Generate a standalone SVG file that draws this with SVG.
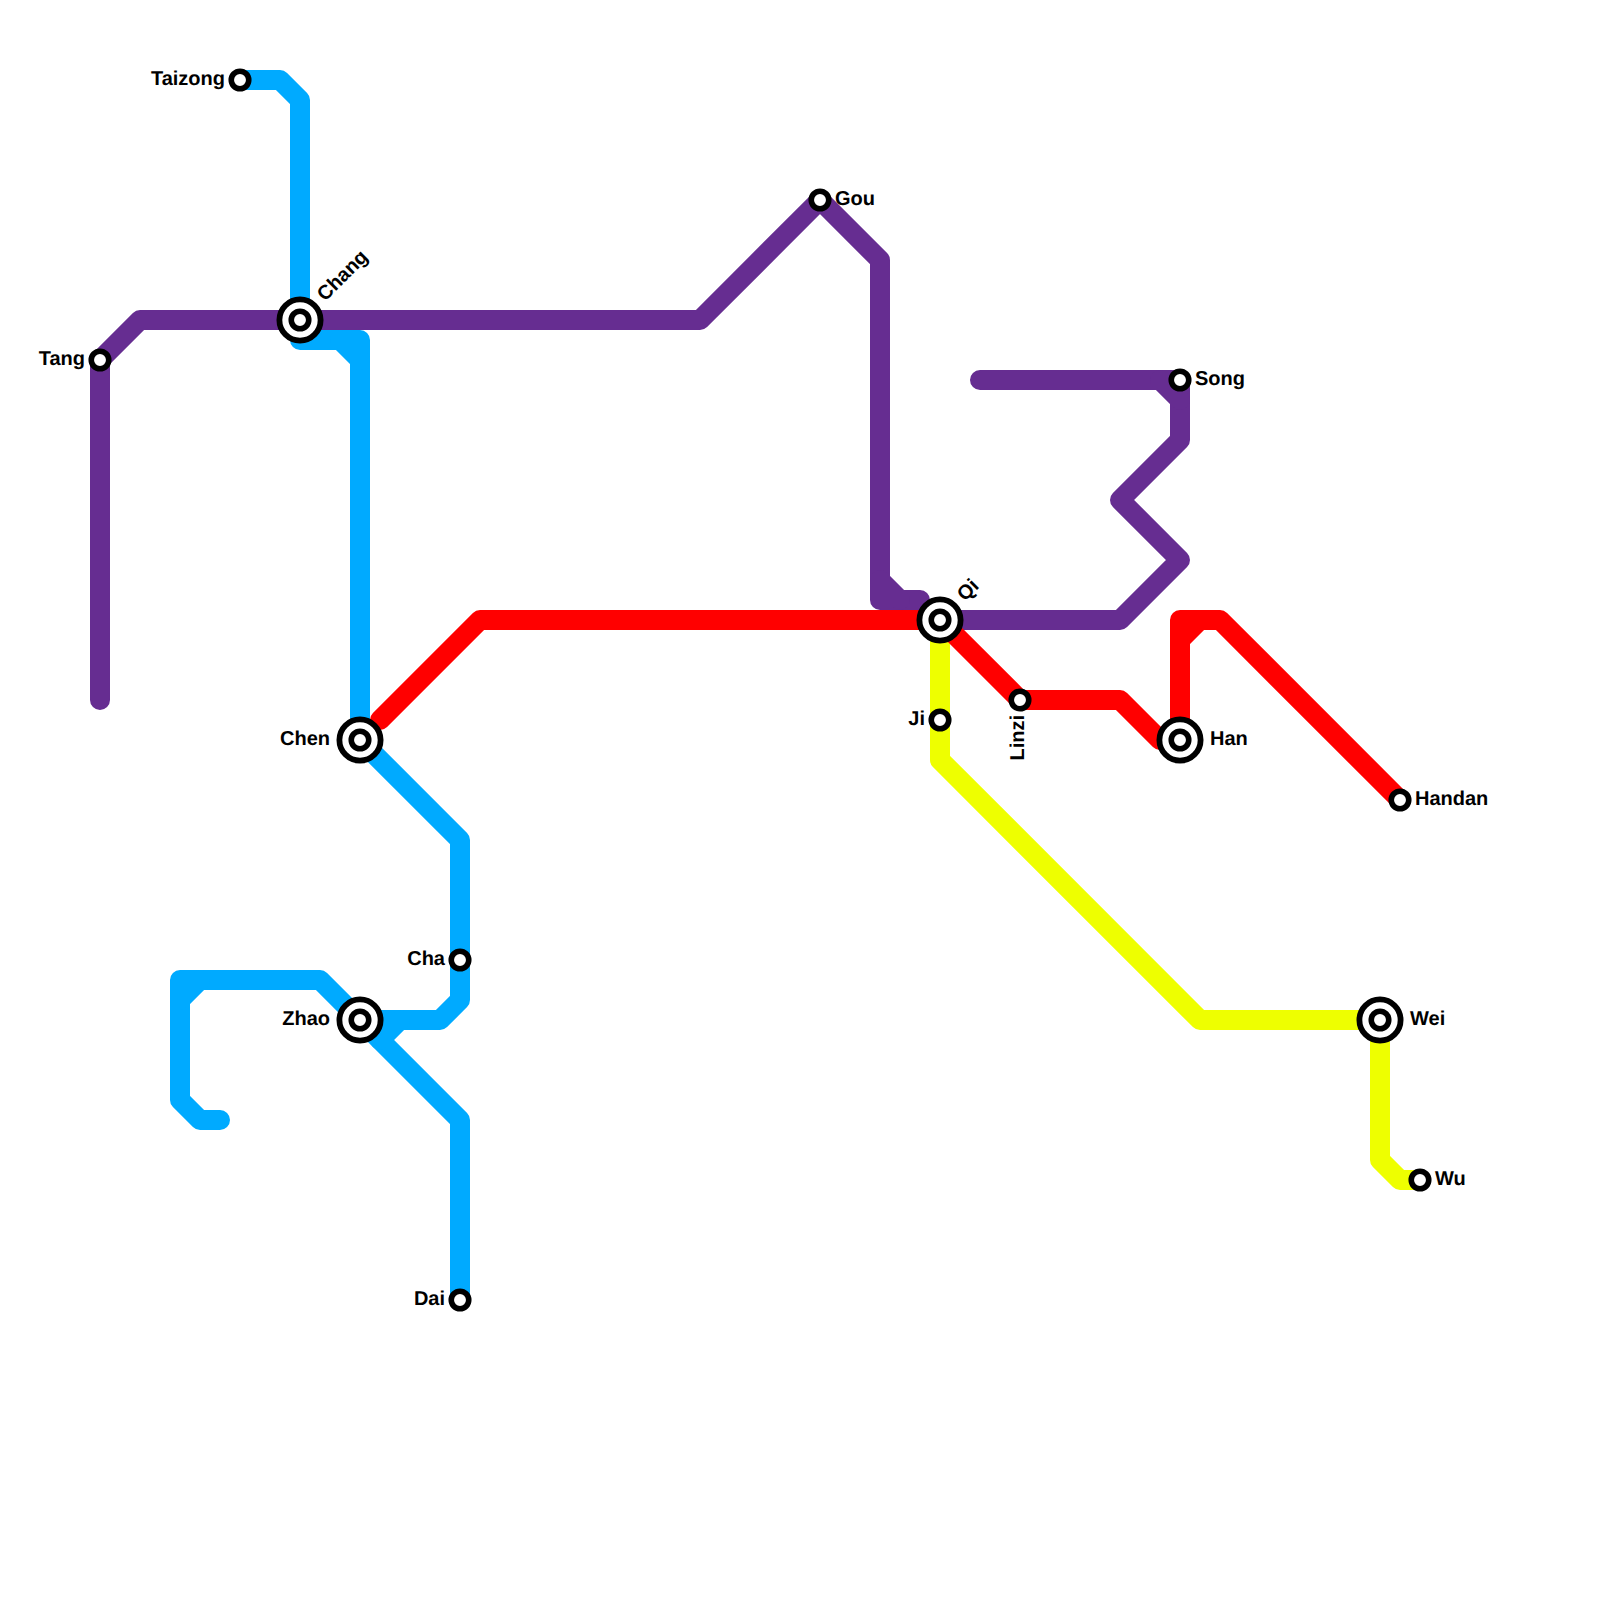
<svg xmlns="http://www.w3.org/2000/svg" width="1600" height="1600" viewBox="0 0 1600 1600">
<style>
.l{fill:none;stroke-width:20;stroke-linecap:round;stroke-linejoin:round}
.b{stroke:#00aaff}.p{stroke:#662d91}.r{stroke:#ff0000}.y{stroke:#eeff00}
.o{fill:#fff;stroke:#000;stroke-width:5.8}
.s{fill:#fff;stroke:#000;stroke-width:5.6}
text{font-family:"Liberation Sans",Arial,sans-serif;font-weight:bold;font-size:20px;fill:#000;text-rendering:geometricPrecision}
.e{text-anchor:end}
</style>
<rect width="1600" height="1600" fill="#fff"/>
<g id="connectors">
<path class="l b" d="M240,80H280L300,100V340H360V740"/>
<path class="l b" d="M340,340L360,360"/>
<path class="l b" d="M360,740L460,840V1000L440,1020H360L460,1120V1300"/>
<path class="l b" d="M380,1040L400,1020"/>
<path class="l b" d="M360,1020L320,980H180V1100L200,1120H220"/>
<path class="l b" d="M180,1000L200,980"/>
<path class="l y" d="M940,620V760L1200,1020H1380V1160L1400,1180H1420"/>
<path class="l p" d="M100,700V360L140,320H700L820,200L880,260V600H920"/>
<path class="l p" d="M880,580L900,600"/>
<path class="l p" d="M940,620H1120L1180,560L1120,500L1180,440V380H980"/>
<path class="l p" d="M1160,380L1180,400"/>
<path class="l r" d="M380,720L480,620H940L1020,700H1120L1160,740"/>
<path class="l r" d="M1180,740V620H1220L1400,800"/>
<path class="l r" d="M1180,640L1200,620"/>
</g>
<g id="st-taizong"><circle class="s" cx="240" cy="80" r="8.75"/><text class="e" x="225" y="85">Taizong</text></g>
<g id="st-tang"><circle class="s" cx="100" cy="360" r="8.75"/><text class="e" x="85" y="365">Tang</text></g>
<g id="st-chang"><circle class="o" cx="300" cy="320" r="20.6"/><circle class="s" cx="300" cy="320" r="8.75"/><text x="325" y="302" transform="rotate(-45 325 302)">Chang</text></g>
<g id="st-gou"><circle class="s" cx="820" cy="200" r="8.75"/><text x="835" y="205">Gou</text></g>
<g id="st-song"><circle class="s" cx="1180" cy="380" r="8.75"/><text x="1195" y="385">Song</text></g>
<g id="st-qi"><circle class="o" cx="940" cy="620" r="20.6"/><circle class="s" cx="940" cy="620" r="8.75"/><text x="965" y="602" transform="rotate(-45 965 602)">Qi</text></g>
<g id="st-ji"><circle class="s" cx="940" cy="720" r="8.75"/><text class="e" x="925" y="725">Ji</text></g>
<g id="st-linzi"><circle class="s" cx="1020" cy="700" r="8.75"/><text class="e" x="1024" y="715" transform="rotate(-90 1024 715)">Linzi</text></g>
<g id="st-han"><circle class="o" cx="1180" cy="740" r="20.6"/><circle class="s" cx="1180" cy="740" r="8.75"/><text x="1210" y="745">Han</text></g>
<g id="st-handan"><circle class="s" cx="1400" cy="800" r="8.75"/><text x="1415" y="805">Handan</text></g>
<g id="st-chen"><circle class="o" cx="360" cy="740" r="20.6"/><circle class="s" cx="360" cy="740" r="8.75"/><text class="e" x="330" y="745">Chen</text></g>
<g id="st-cha"><circle class="s" cx="460" cy="960" r="8.75"/><text class="e" x="445" y="965">Cha</text></g>
<g id="st-zhao"><circle class="o" cx="360" cy="1020" r="20.6"/><circle class="s" cx="360" cy="1020" r="8.75"/><text class="e" x="330" y="1025">Zhao</text></g>
<g id="st-dai"><circle class="s" cx="460" cy="1300" r="8.75"/><text class="e" x="445" y="1305">Dai</text></g>
<g id="st-wei"><circle class="o" cx="1380" cy="1020" r="20.6"/><circle class="s" cx="1380" cy="1020" r="8.75"/><text x="1410" y="1025">Wei</text></g>
<g id="st-wu"><circle class="s" cx="1420" cy="1180" r="8.75"/><text x="1435" y="1185">Wu</text></g>
</svg>
